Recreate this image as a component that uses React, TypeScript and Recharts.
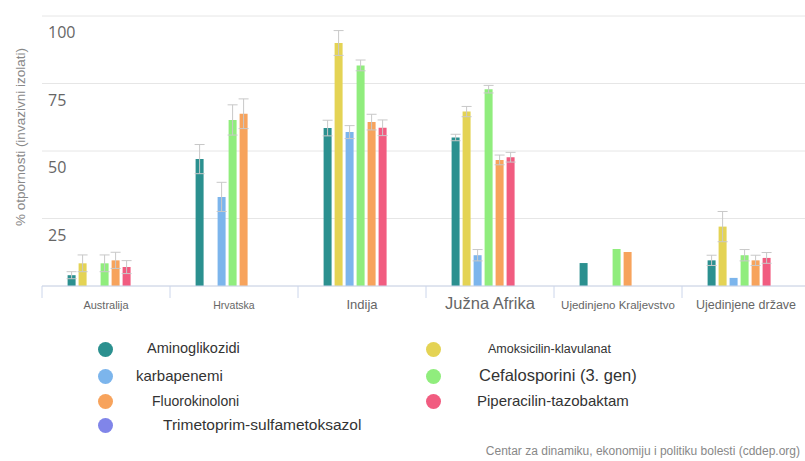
import { BarChart, Bar, XAxis, YAxis, CartesianGrid, ErrorBar } from 'recharts';

const categories = [
  'Australija',
  'Hrvatska',
  'Indija',
  'Južna Afrika',
  'Ujedinjeno Kraljevstvo',
  'Ujedinjene države',
];

// % otpornosti po skupini antibiotika, i pripadajuća odstupanja
const aminoglikozidi = [4, 47, 58.5, 55, 8.5, 9.5];
const aminoglikozidiErr = [1.3, 5.4, 2.9, 1.2, null, 1.9];
const amoksicilin = [8.4, null, 90, 64.6, null, 22];
const amoksicilinErr = [3.1, null, 4.6, 1.9, null, 5.6];
const karbapenemi = [null, 33, 57, 11.4, null, 3];
const karbapenemiErr = [null, 5.4, 2.4, 2.1, null, null];
const cefalosporini = [8.4, 61.5, 81.7, 72.9, 13.7, 11.4];
const cefalosporiniErr = [3.1, 5.6, 2, 1.4, null, 2.1];
const fluorokinoloni = [9.5, 63.8, 60.7, 46.7, 12.6, 9.5];
const fluorokinoloniErr = [3, 5.5, 2.9, 1.8, null, 1.9];
const piperacilin = [7, null, 58.6, 47.7, null, 10.4];
const piperacilinErr = [2.4, null, 2.9, 1.8, null, 2];
const trimetoprim = [null, null, null, null, null, null];
const trimetoprimErr = [null, null, null, null, null, null];

const yTicks = [0, 25, 50, 75, 100];

const series = [
  { key: 'amino', name: 'Aminoglikozidi', color: '#2b908f', values: aminoglikozidi, errors: aminoglikozidiErr },
  { key: 'amoks', name: 'Amoksicilin-klavulanat', color: '#e4d354', values: amoksicilin, errors: amoksicilinErr },
  { key: 'karba', name: 'karbapenemi', color: '#7cb5ec', values: karbapenemi, errors: karbapenemiErr },
  { key: 'cefa', name: 'Cefalosporini (3. gen)', color: '#90ed7d', values: cefalosporini, errors: cefalosporiniErr },
  { key: 'fluoro', name: 'Fluorokinoloni', color: '#f7a35c', values: fluorokinoloni, errors: fluorokinoloniErr },
  { key: 'pipera', name: 'Piperacilin-tazobaktam', color: '#f15c80', values: piperacilin, errors: piperacilinErr },
  { key: 'trime', name: 'Trimetoprim-sulfametoksazol', color: '#8085e9', values: trimetoprim, errors: trimetoprimErr },
];

const data = categories.map((c, i) => {
  const row: Record<string, string | number | null> = { country: c };
  series.forEach((s) => {
    row[s.key] = s.values[i];
    row[s.key + 'Err'] = s.errors[i];
  });
  return row;
});

// legend layout (the original is a bit uneven)
const legendOrder = ['amino', 'karba', 'fluoro', 'trime', 'amoks', 'cefa', 'pipera'];
const legendLook: Record<string, { size: number; indent: number }> = {
  amino: { size: 14.5, indent: 42 },
  karba: { size: 15, indent: 31 },
  fluoro: { size: 14, indent: 47 },
  trime: { size: 15.5, indent: 58 },
  amoks: { size: 12.5, indent: 55 },
  cefa: { size: 16.5, indent: 46 },
  pipera: { size: 15, indent: 44 },
};
const labelSize: Record<string, number> = {
  Australija: 11,
  Hrvatska: 10.5,
  Indija: 13,
  'Južna Afrika': 16.5,
  'Ujedinjeno Kraljevstvo': 11.5,
  'Ujedinjene države': 12.5,
};

const W = 810;
const H = 461;
const LEFT = 42;
const HALF_BAND = (W - LEFT) / categories.length / 2;

const XTick = (props: any) => {
  const { x, y, payload } = props;
  return (
    <g>
      <line x1={x - HALF_BAND} x2={x - HALF_BAND} y1={y - 8} y2={y + 4} stroke="#ccd6eb" />
      <text
        x={x}
        y={y + 15}
        textAnchor="middle"
        fontFamily="Liberation Sans, Arial, sans-serif"
        fontSize={labelSize[payload.value] || 11}
        fill="#666"
      >
        {payload.value}
      </text>
    </g>
  );
};

const YTick = (props: any) => {
  const { y, payload } = props;
  if (payload.value === 0) return <g />;
  return (
    <text x={48} y={y + 22} fontFamily="Open Sans, sans-serif" fontSize={16} fill="#666">
      {payload.value}
    </text>
  );
};

export default function App() {
  const byKey = Object.fromEntries(series.map((s) => [s.key, s]));
  return (
    <div
      style={{
        position: 'absolute',
        left: 0,
        top: 0,
        width: 805,
        height: H,
        overflow: 'hidden',
        background: '#fff',
        fontFamily: 'Liberation Sans, Arial, sans-serif',
      }}
    >
      <BarChart
        width={W}
        height={H}
        data={data}
        margin={{ top: 16, right: 0, bottom: 145, left: 0 }}
        barCategoryGap="20%"
        barGap={3}
      >
        <CartesianGrid vertical={false} stroke="#e6e6e6" />
        <XAxis
          dataKey="country"
          height={30}
          axisLine={{ stroke: '#ccd6eb' }}
          tickLine={false}
          tick={(p: any) => <XTick {...p} />}
          interval={0}
        />
        <YAxis
          width={LEFT}
          domain={[0, 100]}
          ticks={yTicks}
          axisLine={false}
          tickLine={false}
          tick={(p: any) => <YTick {...p} />}
        />
        {series.map((s) => (
          <Bar key={s.key} dataKey={s.key} name={s.name} fill={s.color} isAnimationActive={false}>
            <ErrorBar dataKey={s.key + 'Err'} width={5} stroke="#c8c8c8" strokeWidth={1} />
          </Bar>
        ))}
      </BarChart>

      <div
        style={{
          position: 'absolute',
          left: 20,
          top: 137,
          transform: 'translate(-50%, -50%) rotate(-90deg)',
          whiteSpace: 'nowrap',
          fontSize: 13.5,
          color: '#888',
        }}
      >
        % otpornosti (invazivni izolati)
      </div>

      {legendOrder.map((k, i) => {
        const s = byKey[k];
        const col = i < 4 ? 0 : 1;
        const row = col === 0 ? i : i - 4;
        const cx = col === 0 ? 105 : 433;
        const cy = [349, 376, 401, 425][row];
        const look = legendLook[k];
        return (
          <div key={k}>
            <div
              style={{
                position: 'absolute',
                left: cx - 7.5,
                top: cy - 7.5,
                width: 15,
                height: 15,
                borderRadius: '50%',
                background: s.color,
              }}
            />
            <div
              style={{
                position: 'absolute',
                left: cx + look.indent,
                top: cy - look.size * 0.6,
                fontSize: look.size,
                lineHeight: 1.2,
                color: '#333',
                whiteSpace: 'nowrap',
              }}
            >
              {s.name}
            </div>
          </div>
        );
      })}

      <div
        style={{
          position: 'absolute',
          right: 5,
          top: 444,
          fontSize: 12,
          color: '#888',
          whiteSpace: 'nowrap',
        }}
      >
        Centar za dinamiku, ekonomiju i politiku bolesti (cddep.org)
      </div>
    </div>
  );
}
